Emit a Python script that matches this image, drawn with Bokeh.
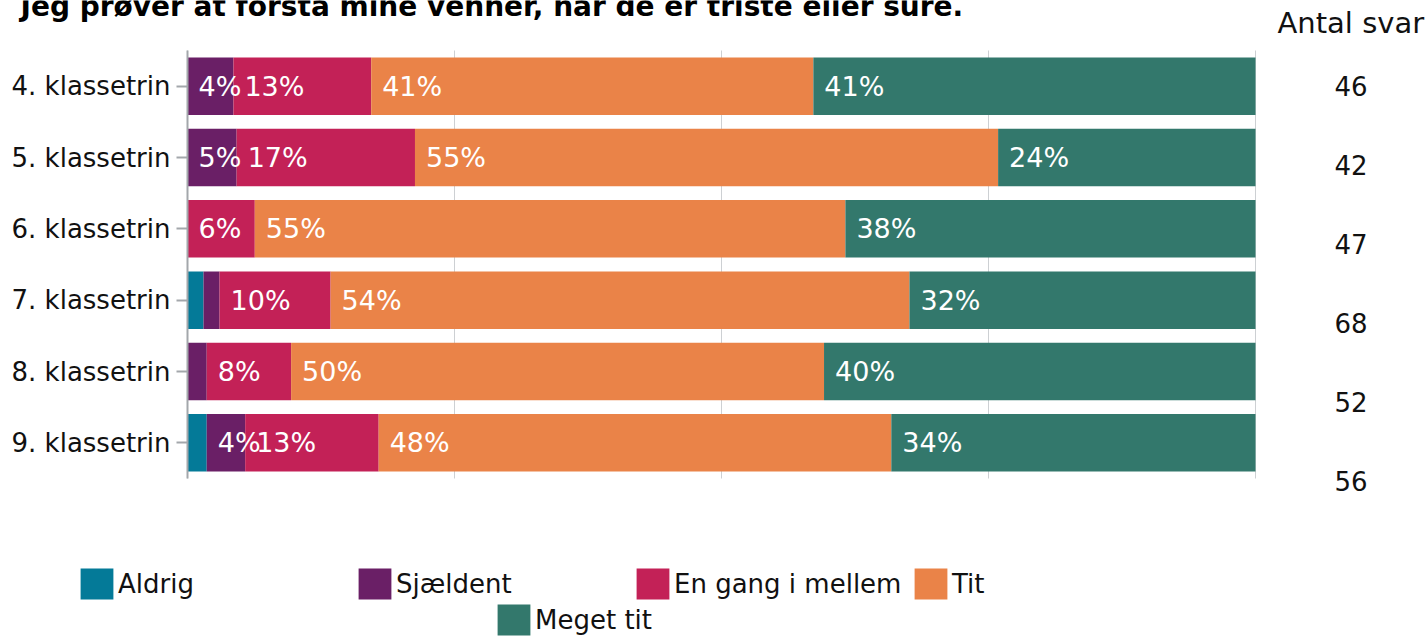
from bokeh.plotting import figure
from bokeh.models import (ColumnDataSource, Range1d, Legend, LegendItem, Label,
                          LinearAxis, FixedTicker)
from bokeh.core.properties import value
from bokeh.embed import file_html
from bokeh.resources import INLINE

# ---------------- data ----------------
title_text = "Jeg prøver at forstå mine venner, når de er triste eller sure."
grades = ["4. klassetrin", "5. klassetrin", "6. klassetrin",
          "7. klassetrin", "8. klassetrin", "9. klassetrin"]
series = ["Aldrig", "Sjældent", "En gang i mellem", "Tit", "Meget tit"]
keys = ["aldrig", "sjaeldent", "en_gang", "tit", "meget_tit"]
colors = ["#047A98", "#6A1F66", "#C32157", "#EA8348", "#33786C"]

aldrig    = [0.0, 0.0, 0.0, 1.5, 0.0, 1.8]
sjaeldent = [4.3, 4.6, 0.0, 1.5, 1.8, 3.6]
en_gang   = [12.9, 16.7, 6.3, 10.4, 7.9, 12.5]
tit       = [41.4, 54.6, 55.3, 54.2, 49.9, 48.0]
meget_tit = [41.4, 24.1, 38.4, 32.4, 40.4, 34.1]

grid_ticks = [0, 25, 50, 75, 100]

count_header = "Antal svar"
antal_svar = [46, 42, 47, 68, 52, 56]

FONT = "DejaVu Sans"

# ---------------- layout constants (pixels) ----------------
W, H = 1428, 639
PX_L, PX_R = 187, 1255          # 0 % and 100 %
ROW_TOP, ROW_BOTTOM = 50, 478    # category band
n = len(grades)
row_pitch = (ROW_BOTTOM - ROW_TOP) / n
pct_px = (PX_R - PX_L) / 100.0
first_center = ROW_TOP + row_pitch / 2

p = figure(width=W, height=H,
           x_range=Range1d(-PX_L / pct_px, (W - PX_L) / pct_px),
           y_range=Range1d(start=(H - first_center) / row_pitch,
                           end=-first_center / row_pitch),
           output_backend="svg", toolbar_location=None,
           x_axis_location=None, y_axis_location=None,
           min_border=0)
p.outline_line_color = None
p.background_fill_color = "white"
p.border_fill_color = "white"
p.grid.visible = False

ypos = list(range(n))

# vertical grid lines limited to the category band
p.segment(x0=grid_ticks, x1=grid_ticks, y0=[-0.5] * len(grid_ticks), y1=[n - 0.5] * len(grid_ticks),
          line_color="#CDD0D3", line_width=1, level="underlay")

data = dict(y=ypos, aldrig=aldrig, sjaeldent=sjaeldent, en_gang=en_gang,
            tit=tit, meget_tit=meget_tit)
src = ColumnDataSource(data)
rs = p.hbar_stack(keys, y="y", height=0.805, color=colors, line_color=None, source=src)

# segment labels
lx, ly, lt = [], [], []
cols = [aldrig, sjaeldent, en_gang, tit, meget_tit]
for i in ypos:
    left = 0.0
    for col in cols:
        v = col[i]
        if v >= 3:
            lx.append(left)
            ly.append(i)
            lt.append(f"{int(v + 0.5)}%")
        left += v
p.text(x=lx, y=ly, text=lt, x_offset=11, text_align="left", text_baseline="middle",
       text_color="white", text_font=value(FONT), text_font_size="27px")

# category axis at 0 %
ax = LinearAxis(fixed_location=0, ticker=FixedTicker(ticks=ypos),
                major_label_overrides={i: g for i, g in zip(ypos, grades)},
                bounds=(-0.5, n - 0.5))
ax.axis_line_color = "#A3A7AB"
ax.axis_line_width = 2
ax.major_tick_line_color = "#A3A7AB"
ax.major_tick_line_width = 2
ax.major_tick_out = 11
ax.major_tick_in = 0
ax.minor_tick_line_color = None
ax.major_label_standoff = 6
ax.major_label_text_font = FONT
ax.major_label_text_font_size = "26px"
ax.major_label_text_color = "#111111"
p.add_layout(ax, "left")

# count column (own vertical scale)
C_PITCH, C_FIRST = 79.0, 85.0
p.extra_y_ranges = {"counts": Range1d(start=(H - C_FIRST) / C_PITCH, end=-C_FIRST / C_PITCH)}
COUNT_X = (1350.5 - PX_L) / pct_px
p.text(x=[COUNT_X] * len(antal_svar), y=list(range(len(antal_svar))),
       text=[str(c) for c in antal_svar], y_range_name="counts",
       text_align="center", text_baseline="middle", text_color="#111111",
       text_font=value(FONT), text_font_size="26px")

p.add_layout(Label(x=1277, y=H - 22, x_units="screen", y_units="screen",
                   text=count_header, text_align="left", text_baseline="middle",
                   text_font=FONT, text_font_size="29px", text_color="#111111"))

p.add_layout(Label(x=20, y=H - 6, x_units="screen", y_units="screen",
                   text=title_text, text_align="left", text_baseline="alphabetic",
                   text_font=FONT, text_font_size="28px", text_font_style="bold",
                   text_color="#000000"))

# legends
GW, GH = 41, 39
common = dict(orientation="horizontal", glyph_width=GW, glyph_height=GH,
              label_standoff=1, label_height=GH, spacing=0, padding=0, margin=0,
              border_line_color=None, background_fill_alpha=0,
              label_text_font=FONT, label_text_font_size="26px",
              label_text_color="#111111", label_text_baseline="middle")
leg1 = Legend(items=[LegendItem(label=series[j], renderers=[rs[j]]) for j in range(4)],
              location=(76, H - (564 + GH)), label_width=236, **common)
leg2 = Legend(items=[LegendItem(label=series[4], renderers=[rs[4]])],
              location=(493, H - (600 + GH)), label_width=100, **common)
p.add_layout(leg1)
p.add_layout(leg2)

open("out.html", "w").write(file_html(p, INLINE))
